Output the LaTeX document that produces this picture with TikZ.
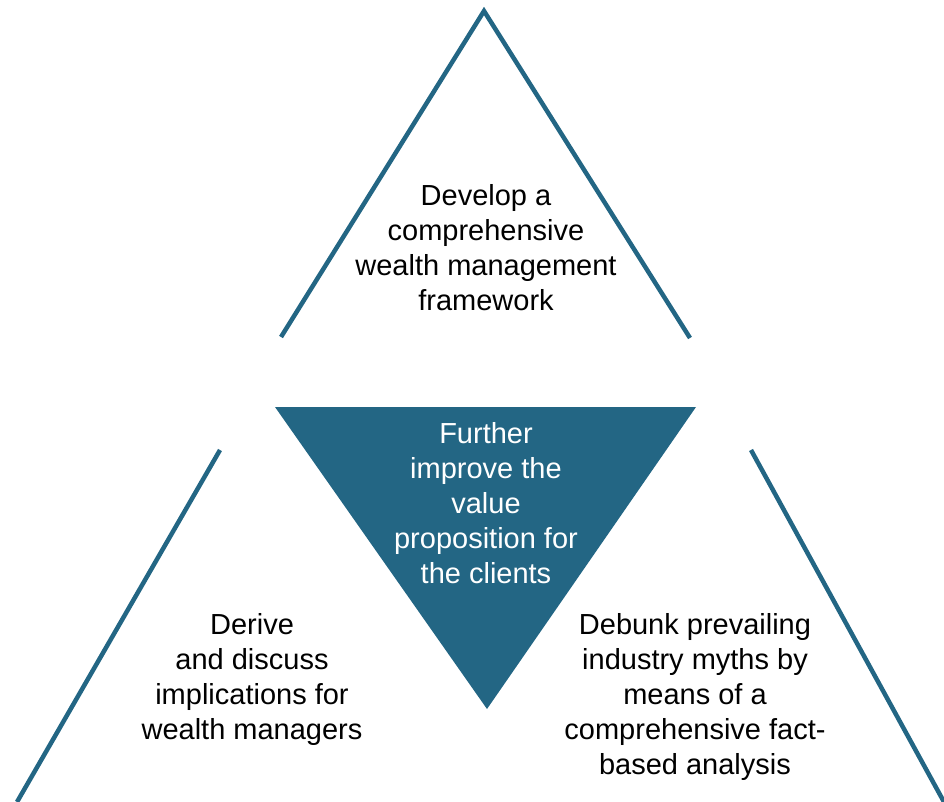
\documentclass[tikz,border=0pt]{standalone}
\usepackage{fontspec}
\setmainfont{Liberation Sans}
\definecolor{petrol}{HTML}{236684}
\begin{document}
\begin{tikzpicture}[x=1pt,y=-1pt,
  leg/.style={draw=petrol,line width=4.5pt},
  caption/.style={align=center,font=\fontsize{29}{35}\selectfont,inner sep=0pt}]
\useasboundingbox (0,0) rectangle (944,802);
% upper triangle: two open legs
\coordinate (topapex) at (484,11);
\coordinate (topL) at (281,337);
\coordinate (topR) at (690,338);
\draw[leg] (topL) -- (topapex) -- (topR);
% central inverted triangle
\coordinate (cL) at (275,407);
\coordinate (cR) at (696,407);
\coordinate (cB) at (487,709);
\fill[petrol] (cL) -- (cR) -- (cB) -- cycle;
% outer legs of the lower triangles
\coordinate (lTop) at (220,450);
\coordinate (lBot) at (17,802);
\coordinate (rTop) at (751,450);
\coordinate (rBot) at (944,802);
\draw[leg] (lTop) -- (lBot);
\draw[leg] (rTop) -- (rBot);
% captions
\node[caption] (develop) at (486,248) {Develop a\\comprehensive\\wealth management\\framework};
\node[caption,text=white] (further) at (486,503) {Further\\improve the\\value\\proposition for\\the clients};
\node[caption] (derive) at (252,679) {Derive\\and discuss\\implications for\\wealth managers};
\node[caption] (debunk) at (695,697) {Debunk prevailing\\industry myths by\\means of a\\comprehensive fact-\\based analysis};
\end{tikzpicture}
\end{document}
